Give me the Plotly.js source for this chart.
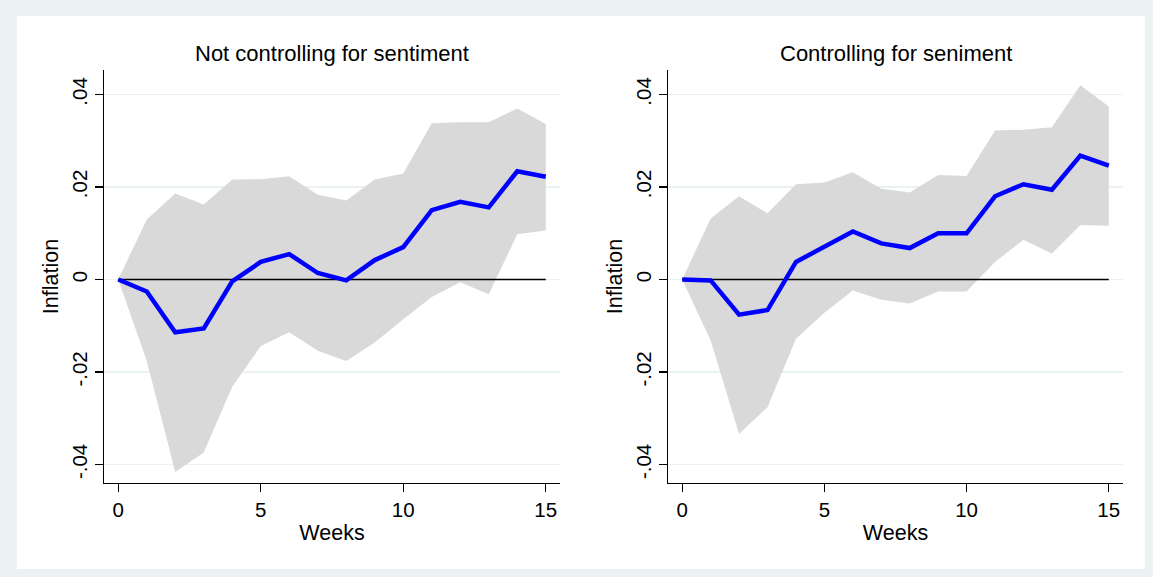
<!DOCTYPE html>
<html>
<head>
<meta charset="utf-8">
<script src="https://cdn.plot.ly/plotly-3.0.1.min.js"></script>
<style>html,body{margin:0;padding:0;background:#eaf2f3;}#chart{width:1153px;height:577px;}</style>
</head>
<body>
<div id="chart"></div>
<script>
const weeks = [0,1,2,3,4,5,6,7,8,9,10,11,12,13,14,15];

// Panel 1: Not controlling for sentiment
const irfNoSent   = [0,-0.0026,-0.0114,-0.0106,-0.0004,0.0038,0.0055,0.0014,-0.0002,0.0042,0.0070,0.0150,0.0168,0.0156,0.0234,0.0222];
const upperNoSent = [0,0.0130,0.0186,0.0162,0.0216,0.0217,0.0223,0.0183,0.0171,0.0216,0.0229,0.0338,0.0340,0.0340,0.0370,0.0336];
const lowerNoSent = [0,-0.0176,-0.0416,-0.0374,-0.0232,-0.0144,-0.0114,-0.0154,-0.0176,-0.0136,-0.0086,-0.0038,-0.0006,-0.0032,0.0098,0.0106];

// Panel 2: Controlling for seniment
const irfSent   = [0,-0.0002,-0.0076,-0.0066,0.0038,0.0070,0.0104,0.0078,0.0068,0.0100,0.0100,0.0180,0.0206,0.0194,0.0268,0.0246];
const upperSent = [0,0.0132,0.0180,0.0143,0.0206,0.0210,0.0232,0.0196,0.0188,0.0226,0.0224,0.0322,0.0324,0.0329,0.0420,0.0374];
const lowerSent = [0,-0.0132,-0.0334,-0.0276,-0.0128,-0.0072,-0.0024,-0.0044,-0.0052,-0.0026,-0.0026,0.0038,0.0086,0.0056,0.0118,0.0116];

const zeroLine = weeks.map(() => 0);

const panelTitles = ["Not controlling for sentiment", "Controlling for seniment"];
const xTitle = "Weeks";
const yTitle = "Inflation";
const xTickVals = [0,5,10,15];
const yTickVals = [-0.04,-0.02,0,0.02,0.04];
const yTickText = ["-.04","-.02","0",".02",".04"];

const FONT = "Liberation Sans, Arial, Helvetica, sans-serif";
const W = 1153, H = 577;

function panelTraces(lower, upper, irf, xa, ya) {
  return [
    {x: weeks, y: lower, xaxis: xa, yaxis: ya, type: 'scatter', mode: 'lines',
     line: {width: 0, color: '#d9d9d9'}, hoverinfo: 'skip', showlegend: false},
    {x: weeks, y: upper, xaxis: xa, yaxis: ya, type: 'scatter', mode: 'lines',
     fill: 'tonexty', fillcolor: '#d9d9d9', line: {width: 0, color: '#d9d9d9'},
     hoverinfo: 'skip', showlegend: false},
    {x: weeks, y: zeroLine, xaxis: xa, yaxis: ya, type: 'scatter', mode: 'lines',
     line: {width: 1.5, color: '#000000'}, showlegend: false},
    {x: weeks, y: irf, xaxis: xa, yaxis: ya, type: 'scatter', mode: 'lines',
     line: {width: 4.5, color: '#0000ff'}, showlegend: false}
  ];
}

const data = [].concat(
  panelTraces(lowerNoSent, upperNoSent, irfNoSent, 'x', 'y'),
  panelTraces(lowerSent, upperSent, irfSent, 'x2', 'y2')
);

const yDom = [1 - 483/H, 1 - 70/H];

function xAxis(dom, anchor) {
  return {
    domain: dom, anchor: anchor, range: [-0.5, 15.5],
    tickmode: 'array', tickvals: xTickVals, ticks: 'outside', ticklen: 8, tickwidth: 1.2,
    tickcolor: '#000', showline: true, linecolor: '#000', linewidth: 1.2,
    showgrid: false, zeroline: false,
    tickfont: {family: FONT, size: 20.5, color: '#000'},
    title: {text: xTitle, font: {family: FONT, size: 21.5, color: '#000'}, standoff: 5}
  };
}
function yAxis(anchor) {
  return {
    domain: yDom, anchor: anchor, range: [-0.0440, 0.0453],
    tickmode: 'array', tickvals: yTickVals, ticktext: yTickText, tickangle: -90,
    ticks: 'outside', ticklen: 8, tickwidth: 1.2, tickcolor: '#000',
    showline: true, linecolor: '#000', linewidth: 1.2,
    showgrid: true, gridcolor: '#eaf2f3', gridwidth: 1.2, zeroline: false,
    tickfont: {family: FONT, size: 20.5, color: '#000'},
    title: {text: yTitle, font: {family: FONT, size: 21.5, color: '#000'}, standoff: 3}
  };
}

const layout = {
  width: W, height: H,
  margin: {l: 0, r: 0, t: 0, b: 0},
  paper_bgcolor: '#eaf2f3', plot_bgcolor: '#ffffff',
  showlegend: false,
  xaxis: xAxis([104/W, 560/W], 'y'),
  yaxis: yAxis('x'),
  xaxis2: xAxis([668/W, 1123/W], 'y2'),
  yaxis2: yAxis('x2'),
  shapes: [
    {type: 'rect', xref: 'paper', yref: 'paper', x0: 17/W, x1: 1145/W, y0: 1 - 569/H, y1: 1 - 16/H,
     fillcolor: '#ffffff', line: {width: 0}, layer: 'below'}
  ],
  annotations: [
    {text: panelTitles[0], xref: 'paper', yref: 'paper', x: 332/W, y: 1 - 53/H,
     showarrow: false, xanchor: 'center', yanchor: 'middle', font: {family: FONT, size: 22, color: '#000'}},
    {text: panelTitles[1], xref: 'paper', yref: 'paper', x: 895.5/W, y: 1 - 53/H,
     showarrow: false, xanchor: 'center', yanchor: 'middle', font: {family: FONT, size: 22, color: '#000'}}
  ]
};

Plotly.newPlot('chart', data, layout, {displayModeBar: false, staticPlot: true});
</script>
</body>
</html>
